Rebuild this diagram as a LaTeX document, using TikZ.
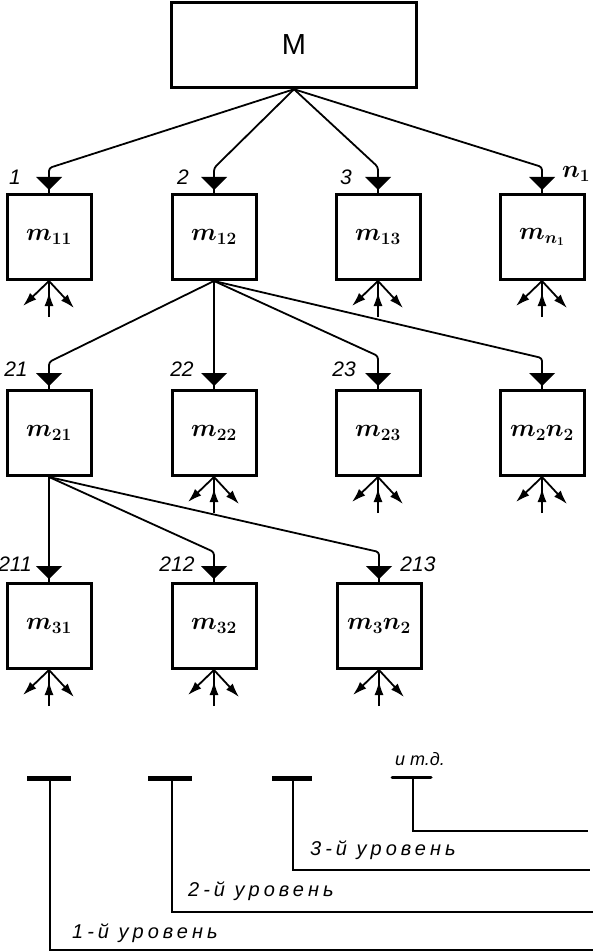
\documentclass[tikz,border=0pt]{standalone}
\usepackage{fontspec}
\setmainfont{Liberation Sans}
\usepackage{tikz}
\usetikzlibrary{arrows.meta}
\tikzstyle{unit}=[draw, line width=3pt, minimum width=84pt, minimum height=85pt, inner sep=0pt, font=\fontsize{25}{30}\selectfont\boldmath]
\tikzstyle{link}=[line width=1.8pt, rounded corners=3pt]
\tikzstyle{io}=[line width=1.8pt, -{Latex[length=14pt,width=9pt]}]
\tikzstyle{num}=[inner sep=0pt, font=\fontsize{21}{24}\selectfont\itshape]
\tikzstyle{levelname}=[inner sep=0pt, anchor=west, font=\fontsize{20}{22}\selectfont\itshape\addfontfeatures{LetterSpace=20}]
\newcommand{\inlet}[1]{
	\draw[line width=1.8pt] (#1.north) -- ++(0,-4);
	\fill (#1.north) ++(0,-3) -- ++(-13,-13) -- ++(26,0) -- cycle;
}
\newcommand{\ioarrows}[1]{
	\draw[io] (#1.south) -- ++(-26,25);
	\draw[io] (#1.south) -- ++(25,27);
	\draw[line width=1.8pt] (#1.south) -- ++(0,36);
	\draw[io] (#1.south) ++(0,36) -- ++(0,-25);
}

\begin{document}
\begin{tikzpicture}[x=1pt,y=-1pt]
	\useasboundingbox (0,0) rectangle (593,952);
	% top box
	\node[draw, line width=3.5pt, minimum width=245pt, minimum height=85pt, inner sep=0pt,
		font=\fontsize{29}{32}\selectfont] (M) at (294,45) {M};
	% level 1
	\node[unit] (m11) at (49,237) {$m_{11}$};
	\node[unit] (m12) at (214,237) {$m_{12}$};
	\node[unit] (m13) at (378,237) {$m_{13}$};
	\node[unit] (m1n) at (542,237) {$m_{n_1}$};
	% level 2
	\node[unit] (m21) at (49,433) {$m_{21}$};
	\node[unit] (m22) at (214,433) {$m_{22}$};
	\node[unit] (m23) at (378,433) {$m_{23}$};
	\node[unit] (m2n) at (542,433) {$m_2n_2$};
	% level 3
	\node[unit] (m31) at (49,626) {$m_{31}$};
	\node[unit] (m32) at (214,626) {$m_{32}$};
	\node[unit] (m3n) at (379,626) {$m_3n_2$};

	\coordinate (k11) at (49,168);
	\coordinate (k12) at (214,168);
	\coordinate (k13) at (378,167);
	\coordinate (k1n) at (542,167);
	\draw[link] (M.south) -- (k11) -- (m11.north);
	\draw[link] (M.south) -- (k12) -- (m12.north);
	\draw[link] (M.south) -- (k13) -- (m13.north);
	\draw[link] (M.south) -- (k1n) -- (m1n.north);

	\coordinate (k21) at (49,362);
	\coordinate (k23) at (378,356);
	\coordinate (k2n) at (542,358);
	\draw[link] (m12.south) -- (k21) -- (m21.north);
	\draw[link] (m12.south) -- (m22.north);
	\draw[link] (m12.south) -- (k23) -- (m23.north);
	\draw[link] (m12.south) -- (k2n) -- (m2n.north);

	\coordinate (k32) at (214,552);
	\coordinate (k3n) at (379,552);
	\draw[link] (m21.south) -- (m31.north);
	\draw[link] (m21.south) -- (k32) -- (m32.north);
	\draw[link] (m21.south) -- (k3n) -- (m3n.north);

	\foreach \b in {m11,m12,m13,m1n,m21,m22,m23,m2n,m31,m32,m3n}
		\inlet{\b};
	\foreach \b in {m11,m13,m1n,m22,m23,m2n,m31,m32,m3n}
		\ioarrows{\b};

	\node[num] at (15,177) {1};
	\node[num] at (183,177) {2};
	\node[num] at (346,177) {3};
	\node[inner sep=0pt, font=\fontsize{24}{26}\selectfont\boldmath] at (576,174) {$n_1$};
	\node[num] at (16,369) {21};
	\node[num] at (182,369) {22};
	\node[num] at (344,369) {23};
	\node[num] at (15,564) {211};
	\node[num] at (177,564) {212};
	\node[num] at (418,564) {213};

	% levels
	\draw[line width=5pt] (27,778) -- (71,778);
	\draw[line width=2.5pt] (50,778) -- (50,950) -- (593,950);
	\draw[line width=5pt] (148,778) -- (192,778);
	\draw[line width=2.5pt] (172,778) -- (172,912) -- (593,912);
	\draw[line width=5pt] (272,778) -- (312,778);
	\draw[line width=2.5pt] (293,778) -- (293,870) -- (590,870);
	\draw[line width=3pt, line cap=round] (392,777) -- (431,777);
	\draw[line width=2pt] (413,777) -- (413,831) -- (588,831);
	\node[inner sep=0pt, font=\fontsize{18}{20}\selectfont\itshape] at (420,759) {и т.д.};
	\node[levelname] at (310,850) {3-й уровень};
	\node[levelname] at (188,891) {2-й уровень};
	\node[levelname] at (72,933) {1-й уровень};
\end{tikzpicture}
\end{document}
